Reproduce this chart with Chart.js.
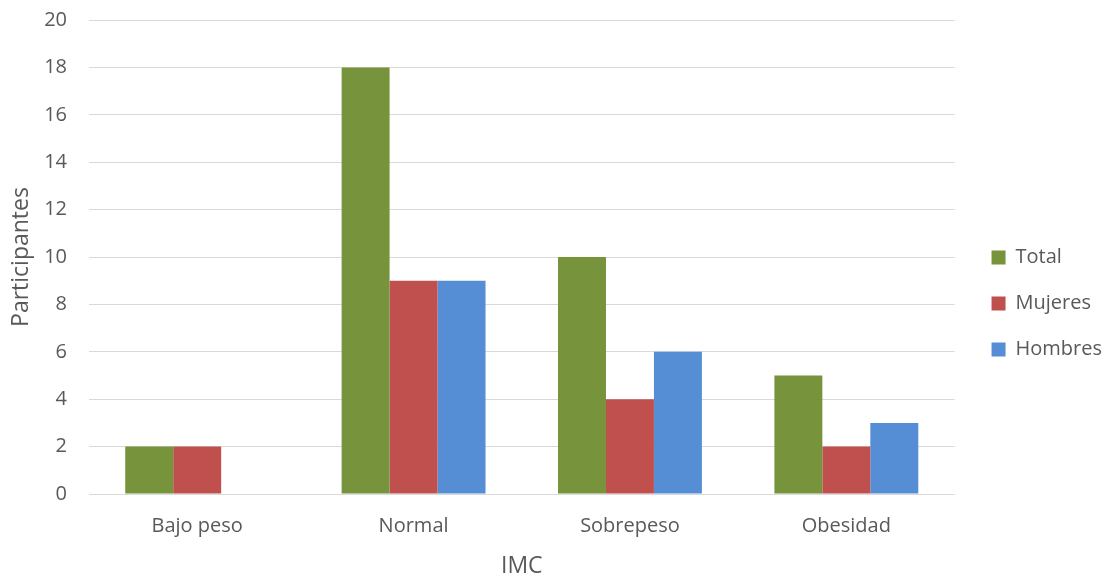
<!DOCTYPE html>
<html>
<head>
<meta charset="utf-8">
<script src="https://cdn.jsdelivr.net/npm/chart.js@4"></script>
<style>
  html, body { margin: 0; padding: 0; background: #fff; }
  #wrap { width: 1106px; height: 573px; }
</style>
</head>
<body>
<div id="wrap"><canvas id="c" width="1106" height="573"></canvas></div>
<script>
const categories = ['Bajo peso', 'Normal', 'Sobrepeso', 'Obesidad'];
const totalValues = [2, 18, 10, 5];
const mujeresValues = [2, 9, 4, 2];
const hombresValues = [0, 9, 6, 3];
const yTicks = [0, 2, 4, 6, 8, 10, 12, 14, 16, 18, 20];

const FONT = "'Open Sans', 'Liberation Sans', sans-serif";
const TEXT = '#595959';

// moves the vertical legend block to its final spot beside the plot
const legendShift = {
  id: 'legendShift',
  afterLayout(chart) {
    const lg = chart.legend;
    if (lg) {
      lg.top += 7; lg.bottom += 7;
      lg.left += 11; lg.right += 11;
    }
  }
};

new Chart(document.getElementById('c'), {
  type: 'bar',
  data: {
    labels: categories,
    datasets: [
      { label: 'Total', data: totalValues, backgroundColor: '#77933C' },
      { label: 'Mujeres', data: mujeresValues, backgroundColor: '#C0504D' },
      { label: 'Hombres', data: hombresValues, backgroundColor: '#558ED5' }
    ]
  },
  options: {
    responsive: false,
    animation: false,
    devicePixelRatio: 1,
    layout: { padding: { top: 20, right: 5, left: 0, bottom: 0 } },
    datasets: { bar: { categoryPercentage: 0.665, barPercentage: 1.0 } },
    plugins: {
      tooltip: { enabled: false },
      legend: {
        position: 'right',
        align: 'center',
        labels: {
          boxWidth: 14, boxHeight: 14, padding: 26,
          color: TEXT,
          font: { family: FONT, size: 20 }
        }
      }
    },
    scales: {
      x: {
        grid: { display: false },
        border: { display: false },
        ticks: { color: TEXT, font: { family: FONT, size: 20 }, padding: 12 },
        title: { display: true, text: 'IMC', color: TEXT, font: { family: FONT, size: 23 }, padding: { top: 6, bottom: -7 } },
        afterFit(s) { s.height = 79; }
      },
      y: {
        min: 0, max: 20,
        afterBuildTicks(s) { s.ticks = yTicks.map(v => ({ value: v })); },
        grid: { color: '#d9d9d9', lineWidth: 1, drawTicks: false },
        border: { display: false },
        ticks: { color: TEXT, font: { family: FONT, size: 20 }, padding: 22 },
        title: { display: true, text: 'Participantes', color: TEXT, font: { family: FONT, size: 23 }, padding: { top: 8, bottom: 0 } },
        afterFit(s) { s.width = 89; s.paddingTop = 0; s.paddingBottom = 0; }
      }
    }
  },
  plugins: [legendShift]
});
</script>
</body>
</html>
